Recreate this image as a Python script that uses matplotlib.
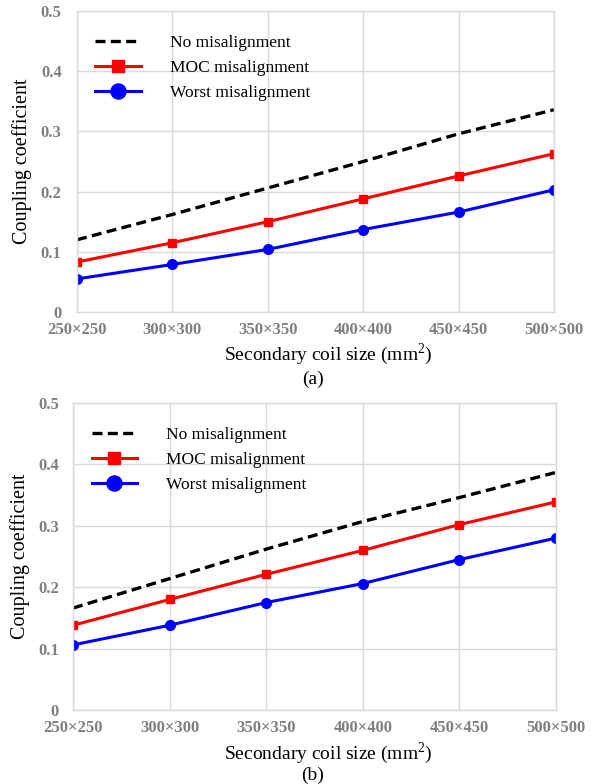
import matplotlib
matplotlib.use("Agg")
import matplotlib.pyplot as plt

categories = ["250×250", "300×300", "350×350", "400×400", "450×450", "500×500"]
yticks = [0, 0.1, 0.2, 0.3, 0.4, 0.5]
ytick_labels = ["0", "0.1", "0.2", "0.3", "0.4", "0.5"]

a_no = [0.120, 0.162, 0.206, 0.250, 0.296, 0.336]
a_moc = [0.083, 0.115, 0.150, 0.188, 0.226, 0.263]
a_worst = [0.055, 0.079, 0.104, 0.137, 0.166, 0.203]

b_no = [0.166, 0.214, 0.262, 0.307, 0.346, 0.387]
b_moc = [0.138, 0.180, 0.221, 0.260, 0.302, 0.339]
b_worst = [0.106, 0.138, 0.175, 0.206, 0.245, 0.280]

labels = ["No misalignment", "MOC misalignment", "Worst misalignment"]

plt.rcParams['font.family'] = ['Liberation Serif', 'DejaVu Serif']
plt.rcParams['mathtext.fontset'] = 'custom'
plt.rcParams['mathtext.rm'] = 'Liberation Serif'

fig = plt.figure(figsize=(5.97, 7.84), dpi=100)
W, H = 597, 784

def make_ax(l, r, t, b):
    return fig.add_axes([l / W, 1 - b / H, (r - l) / W, (b - t) / H])

ax1 = make_ax(77, 554, 11, 312)
ax2 = make_ax(73, 556, 403, 710)

def draw(ax, no, moc, worst, tag, xlab_y, tag_y, ylab_x, ypad):
    x = list(range(len(categories)))
    ax.plot(x, no, color='black', lw=2.4, ls=(0, (3, 1.6)), label=labels[0])
    ax.plot(x, moc, color='#ff0000', lw=2.2, marker='s', ms=6, label=labels[1])
    ax.plot(x, worst, color='#0000ff', lw=2.2, marker='o', ms=7, label=labels[2])
    ax.set_xlim(0, 5)
    ax.set_ylim(0, 0.5)
    ax.set_xticks(x)
    ax.set_xticklabels(categories)
    ax.set_yticks(yticks)
    ax.set_yticklabels(ytick_labels)
    ax.grid(True, color='#d9d9d9', lw=1.0)
    ax.set_axisbelow(True)
    for s in ax.spines.values():
        s.set_color('#d9d9d9')
        s.set_linewidth(1.0)
    ax.tick_params(axis='x', length=0, labelsize=12, labelcolor='#7f7f7f', pad=7)
    ax.tick_params(axis='y', length=0, labelsize=12, labelcolor='#7f7f7f', pad=ypad)
    for t in ax.get_xticklabels() + ax.get_yticklabels():
        t.set_fontweight('bold')
    pos = ax.get_position()
    fig.text(ylab_x / W, 0.5 * (pos.y0 + pos.y1), "Coupling coefficient",
             rotation=90, ha='center', va='center', fontsize=14.5)
    ax.legend(loc='upper left', frameon=False, fontsize=12.5,
              handlelength=2.6, handletextpad=1.7, markerscale=1.55,
              labelspacing=0.52, bbox_to_anchor=(0.024, 0.945), borderaxespad=0.0)
    fig.text(328 / W, 1 - xlab_y / H,
             "Secondary coil size (mm$^2$)", ha='center', va='center', fontsize=14)
    fig.text(313 / W, 1 - tag_y / H,
             tag, ha='center', va='center', fontsize=14)

draw(ax1, a_no, a_moc, a_worst, "(a)", 354, 379, 22, 11)
draw(ax2, b_no, b_moc, b_worst, "(b)", 753, 775, 20, 10)

fig.savefig("out.png", dpi=100)
